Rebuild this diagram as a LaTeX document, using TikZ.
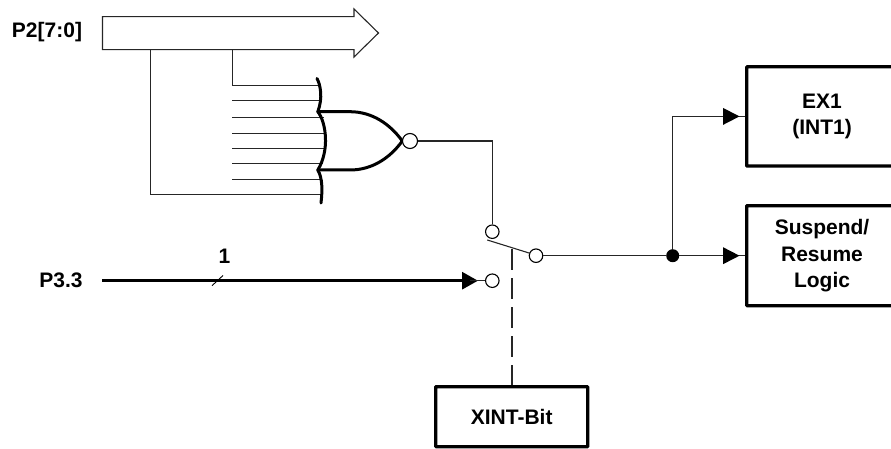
\documentclass[tikz,border=0pt]{standalone}
\usepackage{fontspec}
\setmainfont{Liberation Sans}
\usetikzlibrary{arrows.meta}
\tikzset{
  thinline/.style={draw=black!85, line width=1.1pt},
  gateline/.style={draw=black, line width=3pt, line cap=round, line join=round},
  blockbox/.style={draw=black, line width=3.2pt, rounded corners=0.6pt, fill=white, align=center, inner sep=0pt,
     font=\fontsize{21}{26.5}\selectfont\bfseries},
  lbl/.style={font=\fontsize{21}{24}\selectfont\bfseries, inner sep=0pt},
  term/.style={circle, draw=black, line width=1.1pt, fill=white, minimum size=13.5pt, inner sep=0pt},
  bub/.style={circle, draw=black, line width=1.1pt, fill=white, minimum size=15pt, inner sep=0pt},
  dotn/.style={circle, fill=black, minimum size=13pt, inner sep=0pt},
  tip/.style={-{Triangle[length=16pt,width=17pt]}},
  ctrl/.style={draw=black!85, line width=1.2pt, dash pattern=on 20.5pt off 8.5pt},
}
\begin{document}
\begin{tikzpicture}[x=1pt,y=-1pt]
\useasboundingbox (0,0) rectangle (891,449);
\clip (0,0) rectangle (891,449);
% labels
\node[lbl] (p2) at (47,32.2) {P2[7:0]};
\node[lbl] (p3) at (61,280) {P3.3};
\node[lbl] (one) at (224.5,256) {1};
% bus
\draw[thinline, line join=miter] (102.5,16.7) -- (354,16.7) -- (354,9) -- (378.5,33) -- (354,57) -- (354,49.7) -- (102.5,49.7) -- cycle;
\coordinate (busA) at (150.7,49.7);
\coordinate (busB) at (232.3,49.7);
\coordinate (gi0) at (320,85.7);
\coordinate (gi7) at (321,194.3);
% inputs
\draw[thinline] (busB) |- (gi0);
\draw[thinline] (busA) |- (gi7);
\foreach \yy/\xe in {100.7/321.5,117.7/324,133.4/326,148.7/326,163.7/323,179.3/320.5}
  \draw[thinline] (232,\yy) -- (\xe,\yy);
% gate
\draw[gateline] (317,78.5) .. controls (320.5,85) and (323,98) .. (317.8,111.7)
   .. controls (326,122) and (330,150) .. (317.8,170)
   .. controls (322.5,178) and (322.5,190) .. (321,203);
\draw[gateline] (317.8,111.7) -- (350,111.7) .. controls (372,111.7) and (390,124) .. (402.3,141)
   .. controls (390,158) and (372,170) .. (350,170) -- (317.8,170);
\node[bub] (nor) at (410,141) {};
% switch terminals
\node[term] (sa) at (492.3,231.7) {};
\node[term] (sb) at (492.3,280.7) {};
\node[term] (sc) at (536,255.7) {};
\draw[thinline] (nor) -| (sa);
\coordinate (lev0) at (487.3,240);
\coordinate (lev1) at (530,253.3);
\draw[thinline] (lev0) -- (lev1);
% P3.3
\coordinate (pstart) at (102,280.7);
\draw[draw=black, line width=3pt, tip, shorten >=7pt] (pstart) -- (485,280.7);
\draw[thinline] (470,280.7) -- (sb);
\draw[draw=black, line width=0.9pt] (212,285.7) -- (223,275.5);
% blocks
\node[blockbox, minimum width=150.6pt, minimum height=99.3pt] (ex1) at (822,116.4) {EX1\\(INT1)};
\node[blockbox, minimum width=150.6pt, minimum height=100pt] (susp) at (822,255.7) {Suspend/\\Resume\\Logic};
\node[blockbox, minimum width=152pt, minimum height=60pt] (xint) at (511.7,416.7) {XINT-Bit};
% outputs
\node[dotn] (j) at (672.7,255.7) {};
\draw[thinline] (sc) -- (j);
\draw[thinline] (j) -- (susp.west);
\draw[thinline] (j) |- (ex1.west);
\path[fill=black] (723,107.9) -- (739.5,116.4) -- (723,124.9) -- cycle;
\path[fill=black] (723,247.2) -- (739.5,255.7) -- (723,264.2) -- cycle;
% control
\draw[ctrl] (512,249.3) -- (xint.north -| 512,0);
\end{tikzpicture}
\end{document}
